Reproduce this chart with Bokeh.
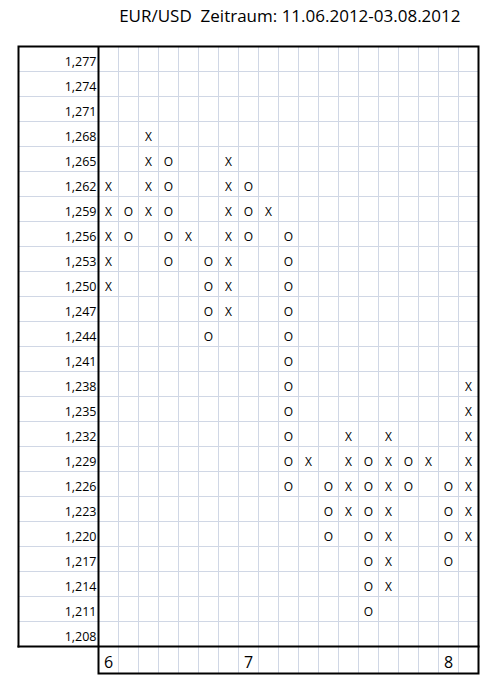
from bokeh.plotting import figure
from bokeh.models import Range1d, Label
from bokeh.embed import file_html
from bokeh.resources import INLINE
from bokeh.core.properties import value

title_text = "EUR/USD\u00a0 Zeitraum: 11.06.2012-03.08.2012"

# price levels (box size 0,003) and their labels, top to bottom
price_levels = [1.277, 1.274, 1.271, 1.268, 1.265, 1.262, 1.259, 1.256,
                1.253, 1.250, 1.247, 1.244, 1.241, 1.238, 1.235, 1.232,
                1.229, 1.226, 1.223, 1.220, 1.217, 1.214, 1.211, 1.208]
price_labels = ["1,277", "1,274", "1,271", "1,268", "1,265", "1,262",
                "1,259", "1,256", "1,253", "1,250", "1,247", "1,244",
                "1,241", "1,238", "1,235", "1,232", "1,229", "1,226",
                "1,223", "1,220", "1,217", "1,214", "1,211", "1,208"]

# X boxes (rising columns)
x_cols = [0, 0, 0, 0, 0,
          2, 2, 2, 2,
          4,
          6, 6, 6, 6, 6, 6, 6,
          8,
          10,
          12, 12, 12, 12,
          14, 14, 14, 14, 14, 14, 14,
          16,
          18, 18, 18, 18, 18, 18, 18]
x_prices = [1.262, 1.259, 1.256, 1.253, 1.250,
            1.268, 1.265, 1.262, 1.259,
            1.256,
            1.265, 1.262, 1.259, 1.256, 1.253, 1.250, 1.247,
            1.259,
            1.229,
            1.232, 1.229, 1.226, 1.223,
            1.232, 1.229, 1.226, 1.223, 1.220, 1.217, 1.214,
            1.229,
            1.238, 1.235, 1.232, 1.229, 1.226, 1.223, 1.220]

# O boxes (falling columns)
o_cols = [1, 1,
          3, 3, 3, 3, 3,
          5, 5, 5, 5,
          7, 7, 7,
          9, 9, 9, 9, 9, 9, 9, 9, 9, 9, 9,
          11, 11, 11,
          13, 13, 13, 13, 13, 13, 13,
          15, 15,
          17, 17, 17, 17]
o_prices = [1.259, 1.256,
            1.265, 1.262, 1.259, 1.256, 1.253,
            1.253, 1.250, 1.247, 1.244,
            1.262, 1.259, 1.256,
            1.256, 1.253, 1.250, 1.247, 1.244, 1.241, 1.238, 1.235, 1.232, 1.229, 1.226,
            1.226, 1.223, 1.220,
            1.229, 1.226, 1.223, 1.220, 1.217, 1.214, 1.211,
            1.229, 1.226,
            1.226, 1.223, 1.220, 1.217]

# month markers under the columns
month_labels = ["6", "7", "8"]
month_cols = [0, 7, 17]

n_cols = 19
box = 0.003

# layout (pixels)
W, H = 490, 676
col_px, row_px = 20, 25
label_px = 80
date_px = 27
grid_left_px = 98      # from left edge of canvas to grid start
top_px = 46            # from top of canvas to top border

dy = box / row_px
y_top = price_levels[0] + box / 2
y_bot = price_levels[-1] - box / 2
y_date = y_bot - date_px * dy
x_in = -0.5
x_left = x_in - label_px / col_px
x_right = n_cols - 0.5

x0 = x_in - grid_left_px / col_px
y1 = y_top + top_px * dy

p = figure(width=W, height=H, output_backend="svg", toolbar_location=None,
           x_range=Range1d(x0, x0 + W / col_px), y_range=Range1d(y1 - H * dy, y1),
           x_axis_type=None, y_axis_type=None, min_border=0,
           outline_line_color=None)
p.grid.visible = False

grid_col = "#D0D7E5"
font = value("Open Sans")

# horizontal cell lines
hy = [lv + box / 2 for lv in price_levels] + [y_bot]
p.segment(x0=[x_left] * len(hy), y0=hy, x1=[x_right] * len(hy), y1=hy,
          line_color=grid_col, line_width=1)
# vertical cell lines
vx = [x_in + k for k in range(1, n_cols)]
p.segment(x0=vx, y0=[y_date] * len(vx), x1=vx, y1=[y_top] * len(vx),
          line_color=grid_col, line_width=1)

# heavy frame
p.multi_line(xs=[[x_left, x_left, x_right, x_right, x_in, x_in],
                 [x_left, x_right]],
             ys=[[y_bot, y_top, y_top, y_date, y_date, y_top],
                 [y_bot, y_bot]],
             line_color="black", line_width=2, line_join="miter", line_cap="square")

# price labels
p.text(x=[x_in] * len(price_levels), y=price_levels, text=price_labels,
       text_font=font, text_font_size="12.5px", text_align="right",
       text_baseline="middle", x_offset=-2, y_offset=2, text_color="black")

# X and O boxes
p.text(x=x_cols, y=x_prices, text=["X"] * len(x_cols), text_font=font,
       text_font_size="12px", text_align="center", text_baseline="middle",
       y_offset=2, text_color="black")
p.text(x=o_cols, y=o_prices, text=["O"] * len(o_cols), text_font=font,
       text_font_size="12px", text_align="center", text_baseline="middle",
       y_offset=2, text_color="black")

# months
p.text(x=month_cols, y=[y_bot - 14 * dy] * len(month_cols), text=month_labels,
       text_font=font, text_font_size="16px", text_align="center",
       text_baseline="middle", y_offset=1, text_color="black")

p.add_layout(Label(x=x_right - 18 / col_px, y=y_top + 31 * dy, text=title_text,
                   text_font="Open Sans", text_font_size="17px",
                   text_align="right", text_baseline="middle", text_color="black"))

open("out.html", "w").write(file_html(p, INLINE))
